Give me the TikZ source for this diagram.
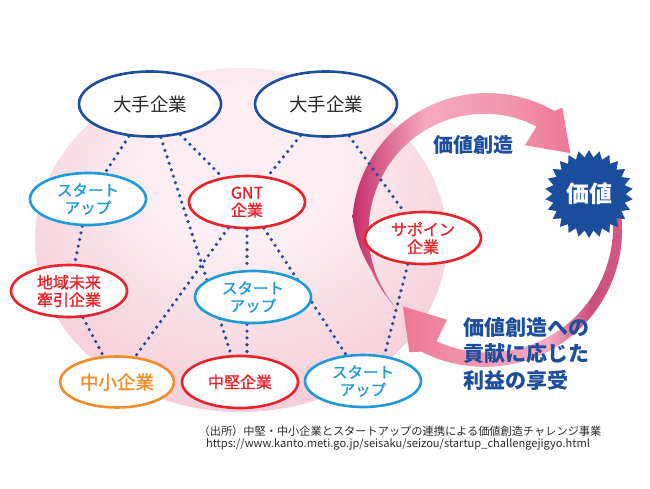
\documentclass[tikz,border=0pt]{standalone}
\usepackage{fontspec}
\setmainfont{Noto Sans CJK JP}
\newfontfamily\medfont[RawFeature={embolden=1.2}]{Noto Sans CJK JP}
\usetikzlibrary{shapes.geometric}
\pgfdeclarelayer{bg}
\pgfdeclarelayer{links}
\pgfsetlayers{bg,links,main}
\definecolor{dblue}{HTML}{1D4E9E}
\definecolor{lblue}{HTML}{1E9AD8}
\definecolor{ored}{HTML}{E8232B}
\definecolor{oorange}{HTML}{F08C2A}
\definecolor{dotc}{HTML}{1F4C9C}
\definecolor{pkA}{HTML}{FCEEF2}
\definecolor{pkB}{HTML}{F0ABBE}
\definecolor{mag}{HTML}{C42D68}
\definecolor{lpk}{HTML}{F5AAC0}
\definecolor{mpk}{HTML}{EE7896}
\definecolor{mauve}{HTML}{D25A86}
\definecolor{starblue}{HTML}{1A4D9C}
\definecolor{txt}{HTML}{2A2A2A}
\pgfdeclareradialshading{pinkball}{\pgfpoint{0bp}{14bp}}{color(0bp)=(pkA); color(12bp)=(pkA); color(50bp)=(pkB)}
\pgfdeclarehorizontalshading{upA}{100bp}{color(0bp)=(mag); color(25bp)=(mag); color(33bp)=(mag!50!lpk); color(42bp)=(lpk); color(60bp)=(lpk!60!mpk); color(75bp)=(mpk); color(100bp)=(mpk)}
\pgfdeclarehorizontalshading{loB}{100bp}{color(0bp)=(mpk); color(25bp)=(mpk); color(45bp)=(lpk!70!mpk); color(58bp)=(lpk); color(68bp)=(mauve!70!mag); color(75bp)=(mauve); color(100bp)=(mauve)}
\begin{document}
\begin{tikzpicture}[x=1pt,y=-1pt,
  declare function={
    roA(\t)=(\t<175)?135:((\t<200)?(135-12*(\t-175)/25):(123-2*(\t-200)/22));
    riA(\t)=(\t<175)?(113+5*(\t-64)/111):((\t<200)?(118+2*(\t-175)/25):(120+(\t-200)/22));
    roB(\t)=135-5*\t/118;
    riB(\t)=126+2*\t/118;
  },
  org/.style={ellipse, line width=2.6pt, fill=white, inner sep=0pt, align=center},
  big/.style={org, draw=dblue, text=txt, minimum width=142pt, minimum height=65pt, font=\fontsize{18.5}{20}\selectfont},
  su/.style={org, draw=lblue, text=lblue, minimum width=116pt, minimum height=52pt, font=\medfont\fontsize{15.5}{17.5}\selectfont},
  rd/.style={org, draw=ored, text=ored, minimum width=116pt, minimum height=52pt, font=\medfont\fontsize{16}{17.5}\selectfont},
  og/.style={org, draw=oorange, text=oorange, minimum width=114pt, minimum height=51pt, font=\medfont\fontsize{18.5}{20}\selectfont},
  dotline/.style={draw=dotc, line width=3.6pt, line cap=round, dash pattern=on 0pt off 6.8pt}
]
\useasboundingbox (0,0) rectangle (650,488);

\begin{pgfonlayer}{bg}
% pink sphere
\shade[shading=pinkball] (241,240) ellipse [x radius=206, y radius=172];

% upper arrow (value creation)
\shade[shading=upA]
  plot[domain=222:60, samples=70, variable=\t] ({487+roA(\t)*cos(\t)}, {228-roA(\t)*sin(\t)})
  -- ({487+142*cos(58)}, {228-142*sin(58)})
  -- ({487+112*cos(42)}, {228-112*sin(42)})
  -- ({487+91*cos(65.4)}, {228-91*sin(65.4)})
  -- plot[domain=64:222, samples=70, variable=\t] ({487+riA(\t)*cos(\t)}, {228-riA(\t)*sin(\t)})
  -- cycle;

% lower arrow (returns)
\shade[shading=loB]
  plot[domain=10:-118, samples=60, variable=\t] ({487+roB(\t)*cos(\t)}, {228-roB(\t)*sin(\t)})
  -- ({487+146.5*cos(-122)}, {228-146.5*sin(-122)})
  -- ({487+115*cos(-137)}, {228-115*sin(-137)})
  -- ({487+100*cos(-113.5)}, {228-100*sin(-113.5)})
  -- plot[domain=-114:10, samples=60, variable=\t] ({487+riB(\t)*cos(\t)}, {228-riB(\t)*sin(\t)})
  -- cycle;
\end{pgfonlayer}

% nodes
\node[big] (o1) at (150,104) {大手企業};
\node[big] (o2) at (326,104) {大手企業};
\node[su] (s1) at (88,199) {スタート\\アップ};
\node[rd] (gnt) at (247,202) {GNT\\企業};
\node[rd] (sap) at (423,238) {サポイン\\企業};
\node[rd] (chiki) at (69,291) {地域未来\\牽引企業};
\node[su] (s2) at (253,297) {スタート\\アップ};
\node[og] (chu) at (117,382) {中小企業};
\node[rd] (chuken) at (240,382) {中堅企業};
\node[su] (s3) at (363,381) {スタート\\アップ};

% dotted connectors, behind the ellipses
\begin{pgfonlayer}{links}
\draw[dotline] (o1) -- (s1);
\draw[dotline] (o1) -- (gnt);
\draw[dotline] (o1) -- (chuken);
\draw[dotline] (o2) -- (gnt);
\draw[dotline] (o2) -- (sap);
\draw[dotline] (s1) -- (chiki);
\draw[dotline] (chiki) -- (chu);
\draw[dotline] (gnt) -- (chu);
\draw[dotline] (gnt.south) -- (s2.north -| gnt.south);
\draw[dotline] (s2.south -| gnt.south) -- (chuken.north -| gnt.south);
\draw[dotline] (gnt) -- (s3);
\draw[dotline] (sap.240) -- (s3.50);
\end{pgfonlayer}

% value star
\node[star, star points=26, star point ratio=1.2, minimum size=88pt, inner sep=0pt,
      fill=starblue, text=white, font=\bfseries\fontsize{23}{23}\selectfont] (val) at (589,194) {価値};

% labels
\node[text=dblue, font=\bfseries\fontsize{20}{20}\selectfont] (vc) at (473,145) {価値創造};
\node[text=dblue, font=\bfseries\fontsize{21}{26.5}\selectfont, align=left, anchor=west, inner sep=0pt] (ben) at (463,354) {価値創造への\\貢献に応じた\\利益の享受};

% source
\node[text=txt, font=\fontsize{11.2}{13}\selectfont, inner sep=0pt] (src) at (400,431) {（出所）中堅・中小企業とスタートアップの連携による価値創造チャレンジ事業};
\node[text=txt, font=\fontsize{11.1}{12}\selectfont, inner sep=0pt] (url) at (398,444) {https://www.kanto.meti.go.jp/seisaku/seizou/startup\_challengejigyo.html};
\end{tikzpicture}
\end{document}
